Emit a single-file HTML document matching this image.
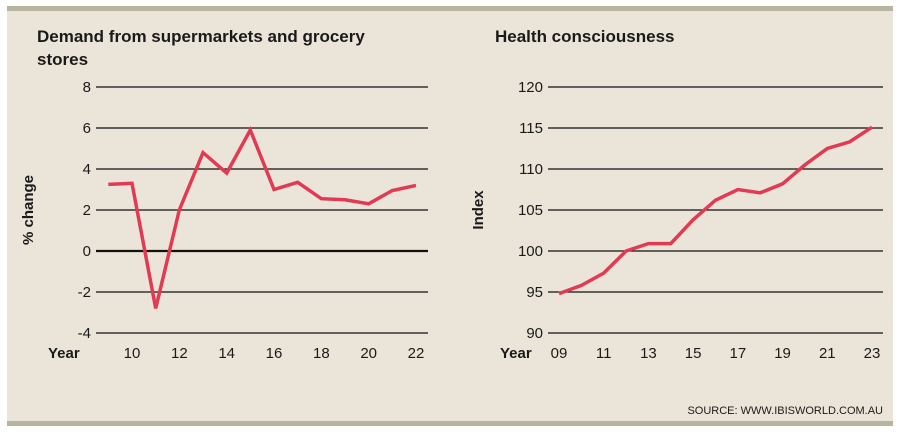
<!DOCTYPE html>
<html><head><meta charset="utf-8"><style>
body{margin:0;width:900px;height:434px;background:#fff;overflow:hidden}
svg{display:block;font-family:"Liberation Sans",sans-serif}
</style></head><body>
<svg width="900" height="434">
<rect x="7" y="6" width="886" height="420" fill="#ebe5d9"/>
<rect x="7" y="6" width="886" height="5" fill="#b9b49d"/>
<rect x="7" y="421" width="886" height="5" fill="#b9b49d"/>
<text x="37" y="42" font-size="17" font-weight="bold" fill="#1a1a1a">Demand from supermarkets and grocery</text>
<text x="37" y="65" font-size="17" font-weight="bold" fill="#1a1a1a">stores</text>
<text x="495" y="42" font-size="17" font-weight="bold" fill="#1a1a1a">Health consciousness</text>
<text transform="translate(33,210) rotate(-90)" text-anchor="middle" font-size="15" font-weight="bold" fill="#1a1a1a">% change</text>
<text transform="translate(483,210) rotate(-90)" text-anchor="middle" font-size="15" font-weight="bold" fill="#1a1a1a">Index</text>
<text x="48" y="358" font-size="15" font-weight="bold" fill="#1a1a1a">Year</text>
<text x="500" y="358" font-size="15" font-weight="bold" fill="#1a1a1a">Year</text>
<text x="883" y="414" text-anchor="end" font-size="11" fill="#1a1a1a">SOURCE: WWW.IBISWORLD.COM.AU</text>
<g id="left"></g><g id="right"></g>
</svg>
<script>
const leftYears=[9,10,11,12,13,14,15,16,17,18,19,20,21,22];
const leftValues=[3.25,3.3,-2.8,2.0,4.8,3.8,5.9,3.0,3.35,2.55,2.5,2.3,2.95,3.2];
const leftYTicks=[-4,-2,0,2,4,6,8];
const leftXTicks=[10,12,14,16,18,20,22];
const rightYears=[9,10,11,12,13,14,15,16,17,18,19,20,21,22,23];
const rightValues=[94.8,95.8,97.3,100,100.9,100.9,103.8,106.2,107.5,107.1,108.2,110.5,112.5,113.3,115.1];
const rightYTicks=[90,95,100,105,110,115,120];
const rightXTicks=[9,11,13,15,17,19,21,23];
const NS="http://www.w3.org/2000/svg";
function mk(p,t,a){const e=document.createElementNS(NS,t);for(const k in a)e.setAttribute(k,a[k]);p.appendChild(e);return e;}
function draw(g,cfg){
 const X=v=>cfg.x0+(v-cfg.xmin)*(cfg.x1-cfg.x0)/(cfg.xmax-cfg.xmin);
 const Y=v=>cfg.yBot+(v-cfg.ymin)*(cfg.yTop-cfg.yBot)/(cfg.ymax-cfg.ymin);
 cfg.yt.forEach(t=>{
  const l=mk(g,'line',{x1:cfg.gx0,x2:cfg.gx1,y1:Y(t),y2:Y(t),stroke:'#111','stroke-width':t===0&&cfg.zero?2.2:1.2});
  
  
  const tx=mk(g,'text',{x:cfg.gx0-5,y:Y(t)+5,'text-anchor':'end','font-size':15,fill:'#1a1a1a'});
  tx.textContent=t;
  
  
 });
 cfg.xt.forEach(t=>{
  const tx=mk(g,'text',{x:X(t),y:358,'text-anchor':'middle','font-size':15,fill:'#1a1a1a'});
  tx.textContent=String(t).padStart(2,'0');
  
  
 });
 const pts=cfg.xs.map((x,i)=>X(x).toFixed(1)+','+Y(cfg.ys[i]).toFixed(1)).join(' ');
 const pl=mk(g,'polyline',{points:pts,fill:'none',stroke:'#e23a52','stroke-width':3.5,'stroke-linejoin':'miter'});
 
 
}
draw(document.getElementById('left'),{xs:leftYears,ys:leftValues,yt:leftYTicks,xt:leftXTicks,x0:132,x1:416,xmin:10,xmax:22,yBot:333,yTop:87,ymin:-4,ymax:8,gx0:96,gx1:428,zero:true});
draw(document.getElementById('right'),{xs:rightYears,ys:rightValues,yt:rightYTicks,xt:rightXTicks,x0:559,x1:872,xmin:9,xmax:23,yBot:333,yTop:87,ymin:90,ymax:120,gx0:548,gx1:883,zero:false});
</script>
</body></html>
